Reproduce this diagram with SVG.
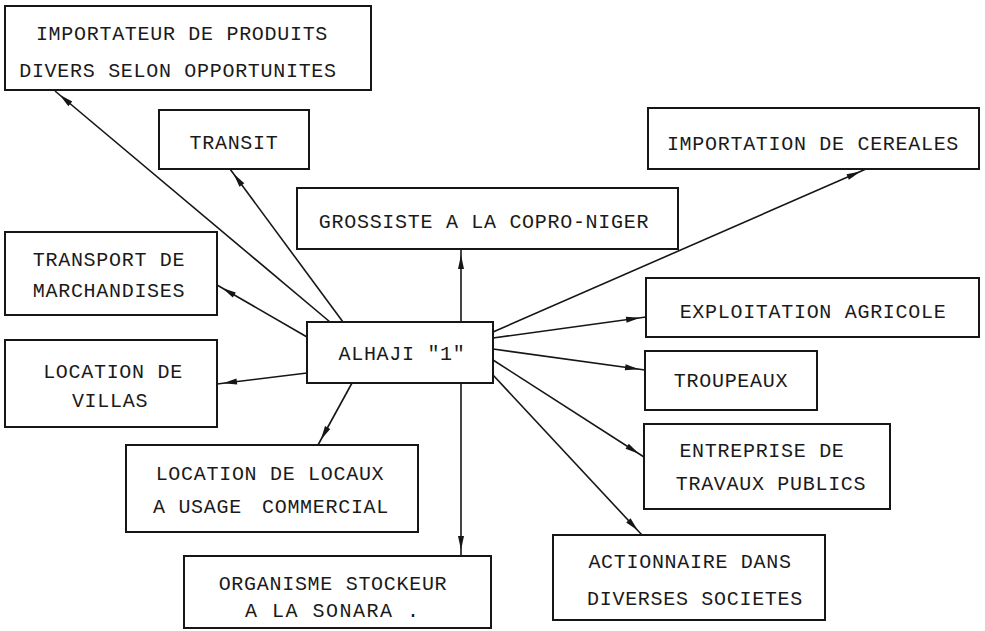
<svg xmlns="http://www.w3.org/2000/svg" width="985" height="631" viewBox="0 0 985 631">
<style>
.box{fill:none;stroke:#161616;stroke-width:2}
.t{font-family:"Liberation Mono","DejaVu Sans Mono",monospace;font-size:20px;letter-spacing:0.7px;fill:#1a1a1a;text-anchor:middle}
.s{text-anchor:start}
.c{fill:none;stroke:#161616;stroke-width:1.6;marker-end:url(#ah)}
</style>
<defs>
<marker id="ah" markerUnits="userSpaceOnUse" markerWidth="22" markerHeight="8" refX="20" refY="3" orient="auto" overflow="visible">
<path d="M0,0 L14,3 L0,6 z" fill="#161616"/>
</marker>
</defs>
<rect width="985" height="631" fill="#fff"/>
<g id="connectors">
<line class="c" x1="330" y1="322" x2="55" y2="91"/>
<line class="c" x1="343" y1="322" x2="230" y2="169"/>
<line class="c" x1="461" y1="322" x2="461" y2="249"/>
<line class="c" x1="307" y1="337" x2="217" y2="285"/>
<line class="c" x1="307" y1="373" x2="217" y2="384"/>
<line class="c" x1="352" y1="383" x2="318" y2="445"/>
<line class="c" x1="461" y1="383" x2="461" y2="556"/>
<line class="c" x1="493" y1="332" x2="866" y2="169"/>
<line class="c" x1="493" y1="338" x2="646" y2="317"/>
<line class="c" x1="493" y1="349" x2="645" y2="370"/>
<line class="c" x1="493" y1="360" x2="644" y2="457"/>
<line class="c" x1="493" y1="375" x2="642" y2="535"/>
</g>
<g id="n-importateur"><rect class="box" x="5" y="6" width="366" height="84"/><text class="t" x="182" y="40">IMPORTATEUR DE PRODUITS</text><text class="t" x="178" y="77">DIVERS SELON OPPORTUNITES</text></g>
<g id="n-transit"><rect class="box" x="159" y="110" width="150" height="59"/><text class="t" x="234" y="149">TRANSIT</text></g>
<g id="n-grossiste"><rect class="box" x="297" y="188" width="381" height="61"/><text class="t" x="484" y="228">GROSSISTE A LA COPRO-NIGER</text></g>
<g id="n-cereales"><rect class="box" x="648" y="108" width="331" height="61"/><text class="t" x="813" y="150">IMPORTATION DE CEREALES</text></g>
<g id="n-transport"><rect class="box" x="5" y="232" width="212" height="83"/><text class="t" x="109" y="266">TRANSPORT DE</text><text class="t" x="109" y="297">MARCHANDISES</text></g>
<g id="n-exploitation"><rect class="box" x="646" y="278" width="333" height="59"/><text class="t" x="813" y="318">EXPLOITATION AGRICOLE</text></g>
<g id="n-alhaji"><rect class="box" x="307" y="322" width="186" height="61"/><text class="t" x="402" y="360">ALHAJI "1"</text></g>
<g id="n-villas"><rect class="box" x="5" y="340" width="212" height="87"/><text class="t" x="113" y="378">LOCATION DE</text><text class="t" x="110" y="407">VILLAS</text></g>
<g id="n-troupeaux"><rect class="box" x="645" y="351" width="172" height="59"/><text class="t" x="731" y="387">TROUPEAUX</text></g>
<g id="n-entreprise"><rect class="box" x="644" y="424" width="246" height="85"/><text class="t" x="762" y="457">ENTREPRISE DE</text><text class="t" x="771" y="490">TRAVAUX PUBLICS</text></g>
<g id="n-locaux"><rect class="box" x="126" y="445" width="292" height="87"/><text class="t" x="270" y="480">LOCATION DE LOCAUX</text><text class="t s" x="153" y="513">A USAGE <tspan x="262">COMMERCIAL</tspan></text></g>
<g id="n-organisme"><rect class="box" x="184" y="556" width="307" height="72"/><text class="t" x="333" y="590">ORGANISME STOCKEUR</text><text class="t s" x="245" y="617" style="letter-spacing:1.5px">A LA SONARA .</text></g>
<g id="n-actionnaire"><rect class="box" x="553" y="535" width="272" height="85"/><text class="t" x="690" y="568">ACTIONNAIRE DANS</text><text class="t" x="695" y="605">DIVERSES SOCIETES</text></g>
</svg>
